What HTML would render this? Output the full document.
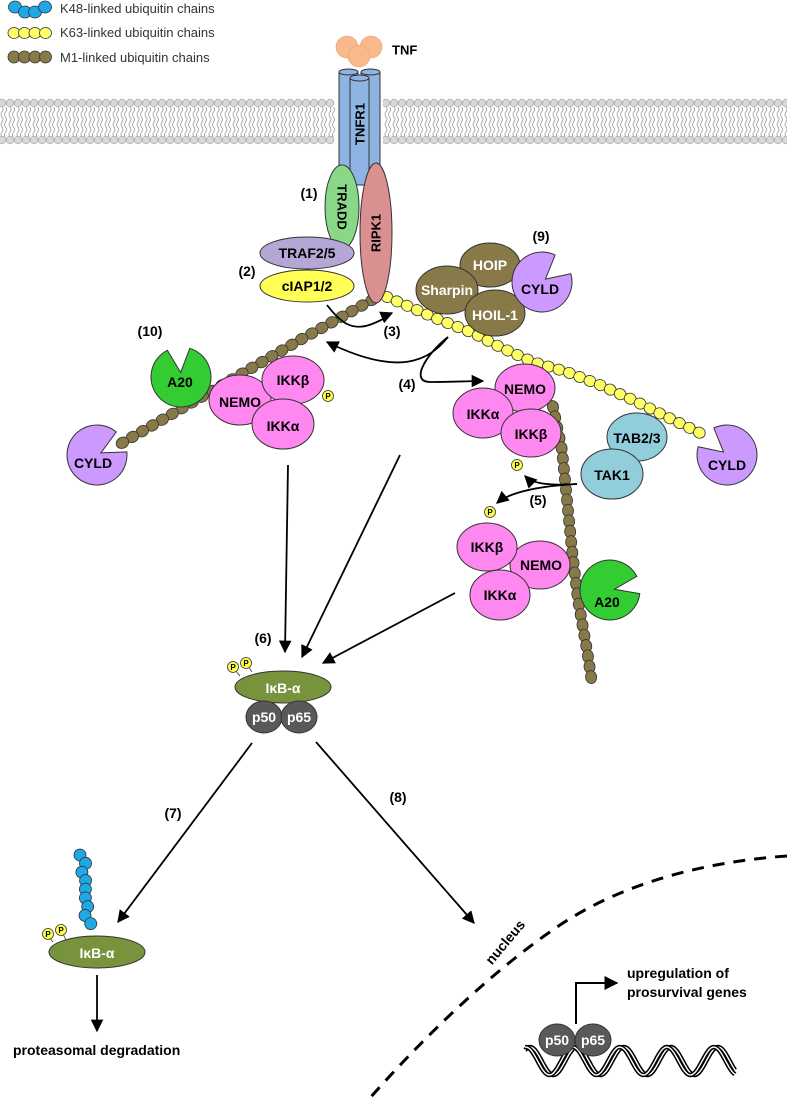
<!DOCTYPE html>
<html><head><meta charset="utf-8"><style>
html,body{margin:0;padding:0;background:#fff;}
svg{display:block;}
text{font-family:"Liberation Sans",sans-serif;font-weight:bold;}
</style></head><body>
<svg id="s" width="787" height="1098" viewBox="0 0 787 1098" xmlns="http://www.w3.org/2000/svg">
<defs>
<marker id="ah" viewBox="0 0 10 10" refX="9" refY="5" markerWidth="7" markerHeight="7" orient="auto-start-reverse"><path d="M0,0 L10,5 L0,10 Z" fill="#000"/></marker>
<pattern id="tails" x="0" y="107" width="8" height="30" patternUnits="userSpaceOnUse">
<path d="M2,0 q2,2.5 0,5 q-2,2.5 0,5 q2,2.5 0,5 q-2,2.5 0,5 q2,2.5 0,5 q-2,2.5 0,5" fill="none" stroke="#999" stroke-width="0.8"/>
<path d="M5.5,0 q2,2.5 0,5 q-2,2.5 0,5 q2,2.5 0,5 q-2,2.5 0,5 q2,2.5 0,5 q-2,2.5 0,5" fill="none" stroke="#999" stroke-width="0.8"/>
</pattern>
</defs>
<g id="membrane">
<rect x="0" y="107" width="787" height="30" fill="url(#tails)"/>
</g>
<g id="chains"></g>
<g id="fg"></g>
<text x="60" y="13" font-size="13" fill="#333" style="font-weight:normal">K48-linked ubiquitin chains</text>
<text x="60" y="37" font-size="13" fill="#333" style="font-weight:normal">K63-linked ubiquitin chains</text>
<text x="60" y="62" font-size="13" fill="#333" style="font-weight:normal">M1-linked ubiquitin chains</text>
</svg>
<script>
var NS="http://www.w3.org/2000/svg";
var chains=document.getElementById('chains');
var fg=document.getElementById('fg');
var mem=document.getElementById('membrane');
function el(tag,attrs,parent){var e=document.createElementNS(NS,tag);for(var k in attrs)e.setAttribute(k,attrs[k]);(parent||fg).appendChild(e);return e;}
for(var x=2;x<790;x+=8){ if(x>333&&x<386)continue;
 el('circle',{cx:x,cy:103,r:3.8,fill:'#d9d9d9',stroke:'#a0a0a0','stroke-width':0.7},mem);
 el('circle',{cx:x,cy:140,r:3.8,fill:'#d9d9d9',stroke:'#a0a0a0','stroke-width':0.7},mem);}
el('rect',{x:336,y:98,width:47,height:48,fill:'#fff'},mem);
function beads(pts,sp,rx,ry,fill,par){
 var segs=[],tot=0;for(var i=1;i<pts.length;i++){var dx=pts[i][0]-pts[i-1][0],dy=pts[i][1]-pts[i-1][1],l=Math.hypot(dx,dy);segs.push([pts[i-1],dx,dy,l]);tot+=l;}
 for(var d=0;d<=tot+0.1;d+=sp){var acc=0;for(var j=0;j<segs.length;j++){if(d<=acc+segs[j][3]+0.001){var t=(d-acc)/segs[j][3];var px=segs[j][0][0]+segs[j][1]*t,py=segs[j][0][1]+segs[j][2]*t;var ang=Math.atan2(segs[j][2],segs[j][1])*180/Math.PI;
 el('ellipse',{cx:px,cy:py,rx:rx,ry:ry,fill:fill,stroke:'#333','stroke-width':0.8,transform:'rotate('+ang+' '+px+' '+py+')'},par||chains);break;}acc+=segs[j][3];}}
}
var OL='#877a48',YE='#ffff66',BL='#1fa8e6';
[[15,7],[25,12],[35,12],[45,7]].forEach(function(p){el('ellipse',{cx:p[0],cy:p[1],rx:6.5,ry:6,fill:BL,stroke:'#333','stroke-width':0.8},chains);});
[14,24.5,35,45.5].forEach(function(x){el('ellipse',{cx:x,cy:33,rx:6,ry:5.5,fill:YE,stroke:'#333','stroke-width':0.8},chains);el('ellipse',{cx:x,cy:57,rx:6,ry:6,fill:OL,stroke:'#333','stroke-width':0.8},chains);});
beads([[387,297],[410,307],[440,320],[473,333],[500,347],[533,362],[567,372],[600,385],[633,400],[663,415],[700,433]],11,6,5.5,YE);
beads([[372,300],[300,340],[122,443]],11.5,6.5,5.5,OL);
beads([[553,407],[562,450],[567,500],[572,550],[578,600],[587,650],[592,683]],10.5,6.5,5.5,OL);
beads([[80,855],[86,864],[81,874],[88,884],[83,894],[89,904],[84,914],[91,924],[96,932]],10,6,6,BL);

function ell(cx,cy,rx,ry,fill,rot){var a={cx:cx,cy:cy,rx:rx,ry:ry,fill:fill,stroke:'#333','stroke-width':1};if(rot)a.transform='rotate('+rot+' '+cx+' '+cy+')';return el('ellipse',a);}
function txt(x,y,t,size,fill,rot,anchor){var a={x:x,y:y,'font-size':size,fill:fill||'#000','text-anchor':anchor||'middle','dominant-baseline':'central'};if(rot)a.transform='rotate('+rot+' '+x+' '+y+')';var e=el('text',a);e.textContent=t;return e;}
function pac(cx,cy,r,dir,half,fill,label,lx,ly){var a1=(dir-half)*Math.PI/180,a2=(dir+half)*Math.PI/180;
 var x1=cx+r*Math.cos(a1),y1=cy+r*Math.sin(a1),x2=cx+r*Math.cos(a2),y2=cy+r*Math.sin(a2);
 var mx=cx+r*0.15*Math.cos(dir*Math.PI/180),my=cy+r*0.15*Math.sin(dir*Math.PI/180);
 el('path',{d:'M'+mx+','+my+' L'+x2+','+y2+' A'+r+','+r+' 0 1 1 '+x1+','+y1+' Z',fill:fill,stroke:'#333','stroke-width':1});
 txt(lx,ly,label,14);}
function line(d,w){return el('path',{d:d,fill:'none',stroke:'#000','stroke-width':w||1.8,'marker-end':'url(#ah)'});}
function P(x,y){el('circle',{cx:x,cy:y,r:5.5,fill:'#ffff44',stroke:'#333','stroke-width':0.8});txt(x,y+0.5,'P',8);}

el('circle',{cx:347,cy:47,r:11,fill:'#f9b98c',stroke:'#e8a070','stroke-width':0.6});
el('circle',{cx:371,cy:47,r:11,fill:'#f9b98c',stroke:'#e8a070','stroke-width':0.6});
el('circle',{cx:359,cy:56,r:11,fill:'#f9b98c',stroke:'#e8a070','stroke-width':0.6});
txt(392,50,'TNF',13,'#000',0,'start');
var CB='#8eb4e3';
el('path',{d:'M339,72 L339,175 L358,175 L358,72',fill:CB,stroke:'#333','stroke-width':1});
el('ellipse',{cx:348.5,cy:72,rx:9.5,ry:3,fill:CB,stroke:'#333','stroke-width':1});
el('path',{d:'M361,72 L361,175 L380,175 L380,72',fill:CB,stroke:'#333','stroke-width':1});
el('ellipse',{cx:370.5,cy:72,rx:9.5,ry:3,fill:CB,stroke:'#333','stroke-width':1});
el('path',{d:'M350,78 L350,185 L369,185 L369,78',fill:CB,stroke:'#333','stroke-width':1});
el('ellipse',{cx:359.5,cy:78,rx:9.5,ry:3,fill:CB,stroke:'#333','stroke-width':1});
txt(360,124,'TNFR1',13,'#000',-90);
ell(342,207,17,42,'#88d888'); txt(342,207,'TRADD',13,'#000',90);
ell(376,233,16,70,'#da9090'); txt(376,233,'RIPK1',13,'#000',-90);
ell(307,286,47,16,'#ffff55'); txt(307,286,'cIAP1/2',14);
ell(307,253,47,16,'#b4a7d6'); txt(307,253,'TRAF2/5',14);
txt(309,193,'(1)',14); txt(247,271,'(2)',14);
ell(490,265,30,22,OL); txt(490,265,'HOIP',14,'#fff');
ell(447,290,31,24,OL); txt(447,290,'Sharpin',14,'#fff');
ell(495,313,30,23,OL); txt(495,315,'HOIL-1',14,'#fff');
pac(542,282,30,-40,24,'#cc99ff','CYLD',540,289);
txt(541,236,'(9)',14);
line('M327,305 C340,322 352,332 372,324 S385,316 392,313');
line('M448,337 C430,360 400,378 327,342');
line('M448,337 C425,355 410,382 430,382 S470,381 483,381');
txt(392,331,'(3)',14); txt(407,384,'(4)',14);
pac(181,377,30,-95,22,'#33cc33','A20',180,382);
pac(97,455,30,-28,22,'#cc99ff','CYLD',93,463);
txt(150,331,'(10)',14);
ell(240,400,31,25,'#ff88f0'); txt(240,402,'NEMO',14);
ell(293,380,31,24,'#ff88f0'); txt(293,380,'IKKβ',14);
ell(283,424,31,25,'#ff88f0'); txt(283,426,'IKKα',14);
P(328,396);
ell(525,388,30,24,'#ff88f0'); txt(525,389,'NEMO',14);
ell(483,413,30,25,'#ff88f0'); txt(483,414,'IKKα',14);
ell(531,433,30,24,'#ff88f0'); txt(531,434,'IKKβ',14);
P(517,465);
ell(637,437,30,24,'#92cddc'); txt(637,438,'TAB2/3',14);
ell(612,474,31,25,'#92cddc'); txt(612,475,'TAK1',14);
pac(727,455,30,-140,24,'#cc99ff','CYLD',727,465);
line('M577,484 C545,486 532,483 525,476');
line('M577,484 C540,486 510,492 497,503');
txt(538,500,'(5)',14);
P(490,512);
ell(540,565,30,24,'#ff88f0'); txt(541,565,'NEMO',14);
ell(487,547,30,24,'#ff88f0'); txt(487,547,'IKKβ',14);
ell(500,595,30,25,'#ff88f0'); txt(500,595,'IKKα',14);
pac(610,590,30,-10,17,'#33cc33','A20',607,602);
line('M288,465 L285,652');
line('M400,455 L302,657');
line('M455,593 L323,663');
txt(263,638,'(6)',14);
el('line',{x1:240,y1:676,x2:235,y2:670,stroke:'#333','stroke-width':0.8},fg);
el('line',{x1:252,y1:672,x2:248,y2:666,stroke:'#333','stroke-width':0.8},fg);
P(233,667); P(246,663);
ell(283,687,48,16,'#77933c'); txt(283,688,'IκB-α',14,'#fff');
ell(264,717,18,16,'#595959'); txt(264,717,'p50',14,'#fff');
ell(299,717,18,16,'#595959'); txt(299,717,'p65',14,'#fff');
line('M252,743 L118,922');
line('M316,742 L474,923');
txt(173,813,'(7)',14); txt(398,797,'(8)',14);
el('line',{x1:53,y1:942,x2:49,y2:937,stroke:'#333','stroke-width':0.8},fg);
el('line',{x1:66,y1:940,x2:63,y2:934,stroke:'#333','stroke-width':0.8},fg);
P(48,934); P(61,930);
ell(97,952,48,16,'#77933c'); txt(97,953,'IκB-α',14,'#fff');
line('M97,975 L97,1031');
txt(13,1050,'proteasomal degradation',14,'#000',0,'start');
el('path',{d:'M787,856 C700,862 620,885 560,925 C500,965 430,1030 370,1098',fill:'none',stroke:'#000','stroke-width':3,'stroke-dasharray':'12,9'});
txt(505,942,'nucleus',14,'#000',-50);
// DNA double helix
function wave(ph){var d='';for(var x=525;x<=736;x+=2){var y=1061-14*Math.cos((x-530)/47*2*Math.PI+ph);d+=(d?' L':'M')+x+','+y.toFixed(1);}return d;}
[0,0.55].forEach(function(ph){
 el('path',{d:wave(ph),fill:'none',stroke:'#000','stroke-width':4.5});
 el('path',{d:wave(ph),fill:'none',stroke:'#fff','stroke-width':1.4});
});
ell(557,1040,18,16,'#595959'); txt(557,1040,'p50',14,'#fff');
ell(593,1040,18,16,'#595959'); txt(593,1040,'p65',14,'#fff');
el('path',{d:'M576,1024 L576,983 L617,983',fill:'none',stroke:'#000','stroke-width':2,'marker-end':'url(#ah)'});
txt(627,973,'upregulation of',14,'#000',0,'start');
txt(627,992,'prosurvival genes',14,'#000',0,'start');
</script>
</body></html>
